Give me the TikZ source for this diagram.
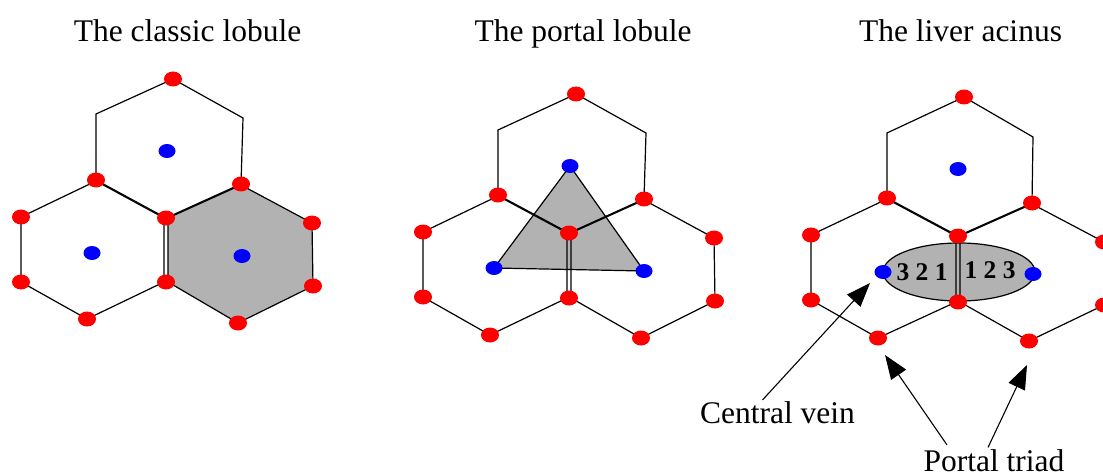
\documentclass[tikz,border=0pt]{standalone}
\usepackage{fontspec}
\setmainfont{Liberation Serif}
\usetikzlibrary{shapes.geometric,arrows.meta}

\tikzset{
  hexline/.style={draw=black, line width=1.2pt, line join=miter},
  tissue/.style={fill=black!30},
  rdot/.style={ellipse, fill=red, minimum width=18pt, minimum height=15pt, inner sep=0pt},
  bdot/.style={ellipse, fill=blue, minimum width=17pt, minimum height=14pt, inner sep=0pt},
  heading/.style={font=\fontsize{31.5}{36}\selectfont, anchor=base, inner sep=0pt},
  zonenum/.style={font=\bfseries\fontsize{25.5}{28}\selectfont, anchor=base, inner sep=0pt},
  ptr/.style={line width=1.1pt, -{Triangle[length=24pt,width=18pt]}},
}

\begin{document}
\begin{tikzpicture}[x=1pt,y=-1pt]
\path[use as bounding box, clip] (0,0) rectangle (1103,476);

% ---------- titles ----------
\node[heading] (t1) at (187.5,42) {The classic lobule};
\node[heading] (t2) at (583,42) {The portal lobule};
\node[heading] (t3) at (960.5,42) {The liver acinus};

% ---------- classic lobule ----------
\coordinate (p1t)  at (173,79);
\coordinate (p1ul) at (96,114);
\coordinate (p1ur) at (243,118);
\coordinate (p1l)  at (96,180);
\coordinate (p1r)  at (241,184);
\coordinate (p1c)  at (166,218);
\coordinate (p1a)  at (21,217);
\coordinate (p1b)  at (21,282);
\coordinate (p1d)  at (87,319);
\coordinate (p1e)  at (166,282);
\coordinate (p1f)  at (312,223);
\coordinate (p1g)  at (313,286);
\coordinate (p1h)  at (238,323);

\draw[hexline] (p1t) -- (p1ur) -- (p1r) -- (p1c) -- (p1l) -- (p1ul) -- cycle;
\draw[hexline] ([yshift=-1pt]p1l) -- ([xshift=-2pt]p1c) -- ([xshift=-2pt]p1e)
  -- (p1d) -- (p1b) -- (p1a) -- cycle;
\draw[hexline, tissue] ([yshift=-1pt]p1r) -- (p1f) -- (p1g) -- (p1h)
  -- ([xshift=2pt]p1e) -- ([xshift=2pt]p1c) -- cycle;

\foreach \v in {p1t,p1l,p1r,p1c,p1a,p1b,p1d,p1e,p1f,p1g,p1h}
  \node[rdot] (d-\v) at (\v) {};
\node[bdot] (c1a) at (167,151) {};
\node[bdot] (c1b) at (92,253) {};
\node[bdot] (c1c) at (242,256) {};

% ---------- portal lobule ----------
\coordinate (p2t)  at (576,94);
\coordinate (p2ul) at (498,130);
\coordinate (p2ur) at (646,133);
\coordinate (p2l)  at (498,195);
\coordinate (p2r)  at (644,199);
\coordinate (p2c)  at (569,233);
\coordinate (p2a)  at (423,232);
\coordinate (p2b)  at (423,297);
\coordinate (p2d)  at (490,335);
\coordinate (p2e)  at (569,298);
\coordinate (p2f)  at (714,238);
\coordinate (p2g)  at (715,301);
\coordinate (p2h)  at (641,338);
\coordinate (q2a)  at (570,166);
\coordinate (q2b)  at (494,268);
\coordinate (q2c)  at (644,271);

\draw[hexline, tissue] (q2a) -- (q2c) -- (q2b) -- cycle;

\draw[hexline] (p2t) -- (p2ur) -- (p2r) -- (p2c) -- (p2l) -- (p2ul) -- cycle;
\draw[hexline] ([yshift=-1pt]p2l) -- ([xshift=-2pt]p2c) -- ([xshift=-2pt]p2e)
  -- (p2d) -- (p2b) -- (p2a) -- cycle;
\draw[hexline] ([yshift=-1pt]p2r) -- (p2f) -- (p2g) -- (p2h)
  -- ([xshift=2pt]p2e) -- ([xshift=2pt]p2c) -- cycle;

\foreach \v in {p2t,p2l,p2r,p2c,p2a,p2b,p2d,p2e,p2f,p2g,p2h}
  \node[rdot] (d-\v) at (\v) {};
\foreach \v in {q2a,q2b,q2c}
  \node[bdot] (d-\v) at (\v) {};

% ---------- liver acinus ----------
\coordinate (p3t)  at (964,97);
\coordinate (p3ul) at (887,133);
\coordinate (p3ur) at (1033,137);
\coordinate (p3l)  at (887,198);
\coordinate (p3r)  at (1032,203);
\coordinate (p3c)  at (958,236);
\coordinate (p3a)  at (811,235);
\coordinate (p3b)  at (811,300);
\coordinate (p3d)  at (878,338);
\coordinate (p3e)  at (958,302);
\coordinate (p3f)  at (1104,242);
\coordinate (p3g)  at (1104,305);
\coordinate (p3h)  at (1029,341);

\node[ellipse, draw=black, line width=1.2pt, fill=black!30,
      minimum width=152pt, minimum height=58pt, inner sep=0pt] (acinus) at (959,272) {};

\draw[hexline] (p3t) -- (p3ur) -- (p3r) -- (p3c) -- (p3l) -- (p3ul) -- cycle;
\draw[hexline] ([yshift=-1pt]p3l) -- ([xshift=-2pt]p3c) -- ([xshift=-2pt]p3e)
  -- (p3d) -- (p3b) -- (p3a) -- cycle;
\draw[hexline] ([yshift=-1pt]p3r) -- (p3f) -- (p3g) -- (p3h)
  -- ([xshift=2pt]p3e) -- ([xshift=2pt]p3c) -- cycle;

\foreach \v in {p3t,p3l,p3r,p3c,p3a,p3b,p3d,p3e,p3f,p3g,p3h}
  \node[rdot] (d-\v) at (\v) {};
\node[bdot] (c3t) at (958,169) {};
\node[bdot] (c3a) at (883,272) {};
\node[bdot] (c3b) at (1033,274) {};

\node[zonenum] (zl) at (922,280) {3 2 1};
\node[zonenum] (zr) at (990,278) {1 2 3};

% ---------- labels and pointers ----------
\node[heading] (cv) at (777.5,423) {Central vein};
\node[heading] (pt) at (994,471) {Portal triad};

\coordinate (cvtip) at (870,283);
\coordinate (pttipa) at (885,355);
\coordinate (pttipb) at (1027,365);

\draw[ptr] ([xshift=-15pt,yshift=1pt]cv.north) -- (cvtip);
\draw[ptr] ([xshift=-47pt,yshift=4pt]pt.north) -- (pttipa);
\draw[ptr] ([xshift=-6pt,yshift=1.5pt]pt.north) -- (pttipb);
\end{tikzpicture}
\end{document}
